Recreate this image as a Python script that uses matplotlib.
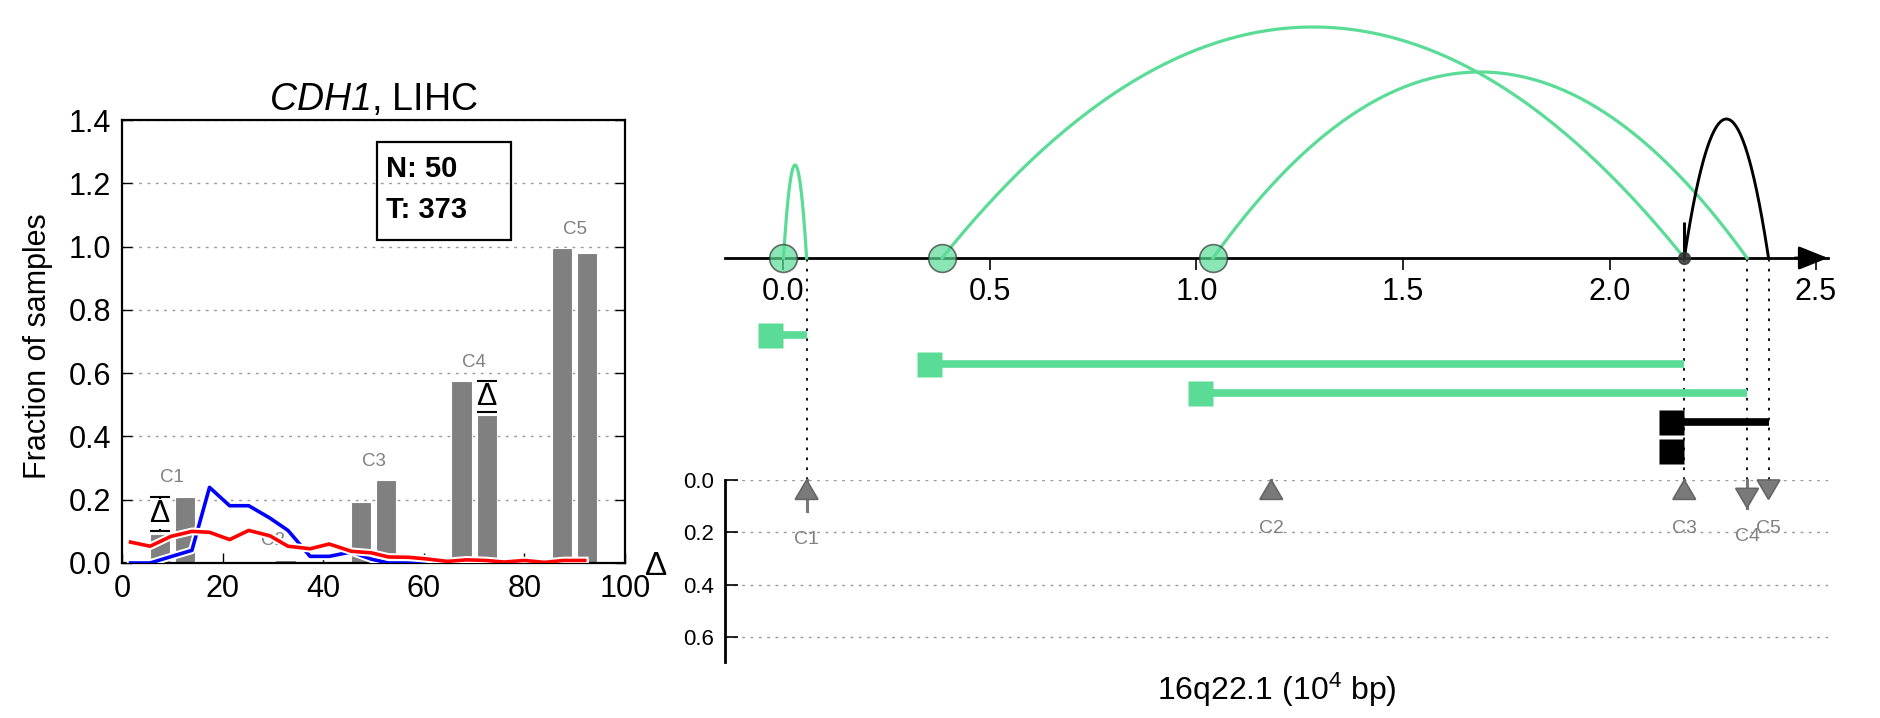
import numpy as np
import matplotlib.pyplot as plt
from matplotlib import patheffects as pe
from matplotlib.path import Path
from matplotlib.patches import Rectangle

plt.rcParams['font.family'] = ['Liberation Sans', 'DejaVu Sans']
plt.rcParams['mathtext.fontset'] = 'custom'
plt.rcParams['mathtext.rm'] = 'Liberation Sans'
plt.rcParams['mathtext.it'] = 'Liberation Sans:italic'
# sans slot used for the italic gene name (keeps the digit italic too)
plt.rcParams['mathtext.sf'] = 'Liberation Sans:italic'

# ---- left panel data: fraction of samples per cluster ----
groups = ['C1', 'C2', 'C3', 'C4', 'C5']
group_x = [10, 30, 50, 70, 90]
normal_frac = [0.093, 0.0, 0.193, 0.574, 0.995]
tumor_frac = [0.210, 0.010, 0.261, 0.468, 0.980]
significant = [True, False, False, True, False]
n_normal = 50
n_tumor = 373

line_x = [1.7, 5.6, 9.7, 13.9, 17.4, 21.4, 25.2, 29.4, 33.0, 37.4, 41.2, 45.6,
          49.6, 53.0, 57.0, 60.5, 64.7, 68.5, 72.3, 76.0, 80.0, 84.0, 87.8, 92.0]
blue_y = [0.0, 0.0, 0.02, 0.04, 0.239, 0.181, 0.181, 0.142, 0.103, 0.021, 0.021, 0.035,
          0.012, 0.0, 0.0, 0.0, 0.0, 0.0, 0.0, 0.0, 0.0, 0.0, 0.0, 0.0]
red_y = [0.066, 0.053, 0.084, 0.100, 0.097, 0.074, 0.103, 0.086, 0.053, 0.045, 0.060, 0.037,
         0.032, 0.019, 0.018, 0.013, 0.005, 0.010, 0.008, 0.003, 0.008, 0.002, 0.008, 0.008]

# ---- right panel data: breakpoints on 16q22.1 (10^4 bp) ----
arc_start = [0.0, 0.384, 1.04, 2.181]
arc_end = [0.056, 2.181, 2.333, 2.385]
arc_height = [93, 231, 186, 139]
arc_is_black = [False, False, False, True]

row_start = [0.0, 0.384, 1.04, 2.181, 2.181]
row_end = [0.056, 2.181, 2.333, 2.385, 2.181]
row_is_black = [False, False, False, True, True]
row_y = [-77, -106, -135, -164, -193]

cluster_pos = [0.056, 1.181, 2.181, 2.333, 2.385]

green = '#5ADC96'
grey = '#808080'

fig = plt.figure(figsize=(18.81, 7.18), dpi=100)

# ================= left panel =================
ax1 = fig.add_axes([122 / 1881, 1 - 563 / 718, 503 / 1881, 443 / 718])
ax1.bar(np.array(group_x) - 2.5, normal_frac, width=4, color=grey, edgecolor='white', lw=0.8, zorder=2)
ax1.bar(np.array(group_x) + 2.5, tumor_frac, width=4, color=grey, edgecolor='white', lw=0.8, zorder=2)
for gx, lab, a, b in zip(group_x, groups, normal_frac, tumor_frac):
    ax1.text(gx, max(a, b) + 0.06, lab, color=grey, fontsize=13.5, ha='center', va='center', zorder=3)

outline = [pe.Stroke(linewidth=5.5, foreground='white'), pe.Normal()]
ax1.plot(line_x, blue_y, color='#0000ff', lw=2.6, zorder=4, path_effects=outline)
ax1.plot(line_x, red_y, color='#ff0000', lw=2.6, zorder=5, path_effects=outline)

# delta markers for significant clusters
for gx, a, b, sig in zip(group_x, normal_frac, tumor_frac, significant):
    if not sig:
        continue
    xx = gx - 2.5 if a < b else gx + 2.5
    lo, hi = min(a, b) + 0.008, max(a, b)
    mid = (lo + hi) / 2
    _, caps, _ = ax1.errorbar([xx], [mid], yerr=[[mid - lo], [hi - mid]], fmt='none', ecolor='k',
                              elinewidth=1.5, capsize=7, capthick=1.5, zorder=6)
    for cap in caps:
        cap.set_zorder(8)
    ax1.text(xx, mid, '\u0394', fontsize=22, ha='center', va='center', zorder=7,
             bbox=dict(facecolor='white', edgecolor='none', pad=0))

ax1.add_patch(Rectangle((0.507, 0.729), 0.266, 0.221, transform=ax1.transAxes,
                        fill=False, lw=1.6, ec='k', zorder=8))
ax1.text(0.525, 0.843, f'N: {n_normal}\nT: {n_tumor}', transform=ax1.transAxes,
         fontsize=21, fontweight='bold', ha='left', va='center', linespacing=1.6, zorder=8)

ax1.set_xlim(0, 100)
ax1.set_ylim(0, 1.4)
ax1.set_xticks([0, 20, 40, 60, 80, 100])
ax1.set_yticks([0.0, 0.2, 0.4, 0.6, 0.8, 1.0, 1.2, 1.4])
ax1.set_yticklabels([f'{v:.1f}' for v in ax1.get_yticks()])
ax1.tick_params(direction='in', length=7, width=1, right=True, labelsize=22, pad=8)
for s in ax1.spines.values():
    s.set_linewidth(1.6)
ax1.yaxis.grid(True, linestyle=(0, (2, 4)), color='#999999', lw=1)
ax1.set_axisbelow(True)
ax1.set_title(r'$\mathsf{CDH1}$, LIHC', fontsize=27, pad=7)
ax1.set_ylabel('Fraction of samples', fontsize=22)
ax1.yaxis.set_label_coords(-0.138, 0.49)

# ================= right panel: arcs + rows =================
xlo, xhi = -0.1416, 2.529
ax2 = fig.add_axes([725 / 1881, 1 - 480 / 718, 1103 / 1881, 480 / 718])
ax2.set_xlim(xlo, xhi)
ax2.set_ylim(-222, 258)
for side in ['top', 'left', 'right']:
    ax2.spines[side].set_visible(False)
ax2.spines['bottom'].set_position(('data', 0))
ax2.spines['bottom'].set_linewidth(2)
ax2.set_yticks([])
ax2.set_xticks([0.0, 0.5, 1.0, 1.5, 2.0, 2.5])
ax2.set_xticklabels([f'{v:.1f}' for v in ax2.get_xticks()])
ax2.tick_params(axis='x', direction='out', length=8.6, width=1.2, labelsize=22, pad=5)
ax2.annotate('', xy=(xhi, 0), xytext=(xhi - 0.08, 0), annotation_clip=False,
             arrowprops=dict(arrowstyle='-|>,head_length=0.4,head_width=0.16', mutation_scale=45,
                             color='k', lw=2, shrinkA=0, shrinkB=0))

# dotted guides at arc ends
ax2.vlines(arc_end, -222, 0, colors='k', linestyles=(0, (1.5, 4)), lw=1.3, zorder=1)

t = np.linspace(0, 1, 200)
for x0, x1, h, black in zip(arc_start, arc_end, arc_height, arc_is_black):
    c = 'black' if black else green
    ax2.plot(x0 + (x1 - x0) * t, 4 * h * t * (1 - t), color=c, lw=2.3 if not black else 2.1, zorder=3)
    if black:
        ax2.vlines(x0, 0, 36, colors='k', lw=2.2, zorder=4)
        ax2.plot(x0, 0, 'o', ms=8.5, color='#333333', alpha=0.85, zorder=5)
    else:
        ax2.plot(x0, 0, 'o', ms=20, mfc=green, mec='#333333', mew=1.2, alpha=0.7, zorder=5)

sq = Path([(-1, -0.5), (0, -0.5), (0, 0.5), (-1, 0.5), (-1, -0.5)],
          [Path.MOVETO, Path.LINETO, Path.LINETO, Path.LINETO, Path.CLOSEPOLY])
for s, e, y, black in zip(row_start, row_end, row_y, row_is_black):
    c = 'black' if black else green
    ax2.plot([s, e], [y, y], color=c, lw=5.5, solid_capstyle='butt', zorder=3)
    ax2.plot(s, y, marker=sq, ms=36, color=c, mec='none', zorder=4)

# ================= right panel: delta axis =================
ax3 = fig.add_axes([725 / 1881, 1 - 662 / 718, 1103 / 1881, 182 / 718])
ax3.set_xlim(xlo, xhi)
ax3.set_ylim(0.695, 0)
for side in ['top', 'bottom', 'right']:
    ax3.spines[side].set_visible(False)
ax3.spines['left'].set_linewidth(2)
ax3.set_xticks([])
ax3.set_yticks([0.0, 0.2, 0.4, 0.6])
ax3.set_yticklabels([f'{v:.1f}' for v in ax3.get_yticks()])
ax3.tick_params(axis='y', direction='in', length=9, width=1.2, labelsize=16, pad=8)
ax3.yaxis.grid(True, linestyle=(0, (2, 4)), color='#999999', lw=1)
ax3.set_ylabel('\u0394', fontsize=24, rotation=0, ha='center', va='center')
ax3.yaxis.set_label_coords(-0.062, 0.522)
ax3.set_xlabel('16q22.1 (10$^4$ bp)', fontsize=23)
ax3.xaxis.set_label_coords(0.5, -0.05)

head_w = 0.055
head_l = 0.074
for xp, lab, a, b in zip(cluster_pos, groups, normal_frac, tumor_frac):
    d = b - a
    size = abs(d)
    if size > 0:
        ax3.plot([xp, xp], [0, size], color='#777777', lw=2.2, zorder=3, clip_on=False)
    if d >= 0:
        tri = [(xp, 0), (xp - head_w / 2, head_l), (xp + head_w / 2, head_l)]
    else:
        tip = max(size, head_l)
        tri = [(xp, tip), (xp - head_w / 2, tip - head_l), (xp + head_w / 2, tip - head_l)]
    ax3.fill(*zip(*tri), facecolor='#7a7a7a', edgecolor='#666666', lw=1.2, zorder=4, clip_on=False)
    ax3.text(xp, max(size, head_l) + 0.11, lab, color=grey, fontsize=14, ha='center', va='center')

fig.savefig('out.png', dpi=100)
